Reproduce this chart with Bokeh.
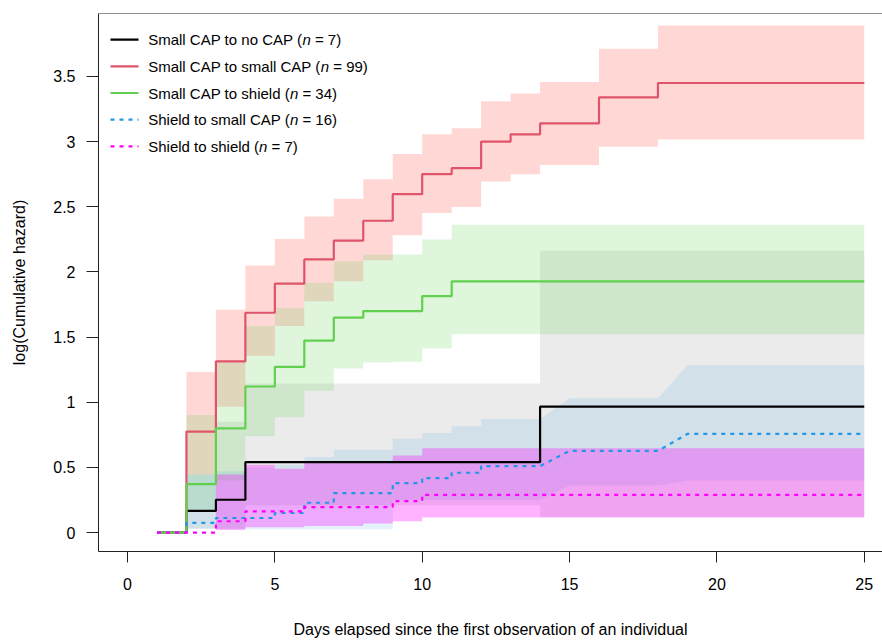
from bokeh.plotting import figure
from bokeh.models import Range1d, FixedTicker, Label, Span
from bokeh.embed import file_html
from bokeh.resources import INLINE

# ---------------- data ----------------
days = list(range(1, 26))          # day 1 .. 25
band_days = list(range(2, 26))     # bands start at the first event (day 2)
mag_band_days = list(range(3, 26))

black_y = [0, 0.166, 0.252] + [0.540] * 10 + [0.966] * 12
black_lo = [0.03, 0.03] + [0.21] * 10 + [0.12] * 12
black_hi = [0.446, 0.851] + [1.144] * 10 + [2.163] * 12

red_y = [0, 0.775, 1.313, 1.687, 1.910, 2.096, 2.241, 2.393, 2.597, 2.750,
         2.796, 3.000, 3.056, 3.140, 3.140, 3.339, 3.339] + [3.450] * 8
red_lo = [0.446, 0.966, 1.356, 1.585, 1.776, 1.929, 2.090, 2.281, 2.452, 2.498,
          2.694, 2.750, 2.821, 2.821, 2.961, 2.961] + [3.017] * 8
red_hi = [1.233, 1.710, 2.050, 2.253, 2.426, 2.561, 2.712, 2.905, 3.056, 3.102,
          3.310, 3.369, 3.458, 3.458, 3.713, 3.713] + [3.891] * 8

green_y = [0, 0.372, 0.800, 1.121, 1.272, 1.473, 1.649, 1.700, 1.700, 1.814] + [1.927] * 15
green_lo = [0.166, 0.40, 0.739, 0.884, 1.088, 1.259, 1.305, 1.310, 1.412] + [1.521] * 15
green_hi = [0.902, 1.305, 1.585, 1.725, 1.917, 2.082, 2.133, 2.133, 2.248] + [2.362] * 15

blue_y = [0, 0.074, 0.112, 0.112, 0.150, 0.229, 0.303, 0.303, 0.380, 0.418,
          0.459, 0.510, 0.510, 0.510, 0.627, 0.627, 0.627, 0.627] + [0.757] * 7
blue_lo = [0.031, 0.03, 0.025, 0.025, 0.025, 0.025, 0.025, 0.25, 0.25, 0.25,
           0.25, 0.25, 0.25, 0.362, 0.362, 0.362, 0.362] + [0.40] * 7
blue_hi = [0.446, 0.47, 0.50, 0.52, 0.58, 0.635, 0.635, 0.719, 0.765, 0.816,
           0.872, 0.872, 0.872, 1.03, 1.03, 1.03, 1.03] + [1.284] * 7
blue_sloped_days = [15, 19]

mag_y = [0, 0, 0.087, 0.163, 0.163, 0.196, 0.196, 0.196, 0.242] + [0.290] * 16
mag_lo = [0.02, 0.04, 0.04, 0.05, 0.05, 0.069, 0.087] + [0.115] * 16
mag_hi = [0.446, 0.52, 0.49, 0.54, 0.54, 0.54, 0.591] + [0.647] * 16

legend_names = ["Small CAP to no CAP", "Small CAP to small CAP", "Small CAP to shield",
                "Shield to small CAP", "Shield to shield"]
legend_n = [7, 99, 34, 16, 7]

x_ticks = [0, 5, 10, 15, 20, 25]
y_ticks = [0, 0.5, 1, 1.5, 2, 2.5, 3, 3.5]
y_tick_labels = ["0", "0.5", "1", "1.5", "2", "2.5", "3", "3.5"]

# ---------------- styling ----------------
FONT = "Liberation Sans"
line_cols = ["#000000", "#DF536B", "#61D04F", "#2297E6", "#FF00FF"]
band_cols = ["#000000", "#FF645A", "#61D04F", "#2297E6", "#FF00FF"]
band_alpha = [0.08, 0.25, 0.2, 0.12, 0.3]
dashes = ["solid", "solid", "solid", "4 5", "4 5"]
LW = 2.2

# pixel calibration of the reference
PX0, PPX = 127.0, 29.47     # x = 0 at px 127, px per day
PY0, PPY = 534.0, 130.8     # y = 0 at py 534, px per unit
W_FIG, H_FIG = 882, 640
FL, FR, FT, FB = 98, 882, 13, 553


def dx(px):
    return (px - PX0) / PPX


def dy(py):
    return (PY0 - py) / PPY


def step_xy(xs, ys, sloped=()):
    ox, oy = [xs[0]], [ys[0]]
    for i in range(1, len(xs)):
        if xs[i] not in sloped:
            ox.append(xs[i]); oy.append(ys[i - 1])
        ox.append(xs[i]); oy.append(ys[i])
    return ox, oy


p = figure(width=W_FIG, height=H_FIG, output_backend="svg", toolbar_location=None,
           x_range=Range1d(dx(FL), dx(FR)), y_range=Range1d(dy(FB), dy(FT)),
           min_border_left=FL, min_border_right=W_FIG - FR,
           min_border_top=FT, min_border_bottom=H_FIG - FB)
p.grid.visible = False
p.outline_line_color = None
p.background_fill_color = "white"
p.border_fill_color = "white"

# bands
bands = [(band_days, black_lo, black_hi, ()),
         (band_days, red_lo, red_hi, ()),
         (band_days, green_lo, green_hi, ()),
         (band_days, blue_lo, blue_hi, blue_sloped_days),
         (mag_band_days, mag_lo, mag_hi, ())]
for (bx, lo, hi, sl), c, a in zip(bands, band_cols, band_alpha):
    sx, slo = step_xy(bx, lo, sl)
    _, shi = step_xy(bx, hi, sl)
    p.varea(x=sx, y1=slo, y2=shi, fill_color=c, fill_alpha=a)

# lines
series = [(black_y, ()), (red_y, ()), (green_y, ()), (blue_y, blue_sloped_days), (mag_y, ())]
for (ys, sl), c, d in zip(series, line_cols, dashes):
    sx, sy = step_xy(days, ys, sl)
    p.line(sx, sy, line_color=c, line_width=LW, line_dash=d)

# axes (R style)
for ax in (p.xaxis[0], p.yaxis[0]):
    ax.major_tick_in = 0
    ax.minor_tick_line_color = None
    ax.axis_line_color = "#222222"
    ax.major_tick_line_color = "#222222"
    ax.major_label_text_font = FONT
    ax.major_label_text_font_size = "16px"
    ax.major_label_text_color = "black"
    ax.axis_label_text_font = FONT
    ax.axis_label_text_font_size = "16px"
    ax.axis_label_text_font_style = "normal"
    ax.axis_label_text_color = "black"

p.xaxis.ticker = FixedTicker(ticks=x_ticks)
p.xaxis.major_tick_out = 11
p.xaxis.major_label_standoff = 15
p.xaxis.axis_label = "Days elapsed since the first observation of an individual"
p.xaxis.axis_label_standoff = 28

p.yaxis.ticker = FixedTicker(ticks=y_ticks)
p.yaxis.major_label_overrides = {t: l for t, l in zip(y_ticks, y_tick_labels)}
p.yaxis.major_tick_out = 12
p.yaxis.major_label_standoff = 11
p.yaxis.axis_label = "log(Cumulative hazard)"
p.yaxis.axis_label_standoff = 22

p.add_layout(Span(location=dy(FT), dimension="width", line_color="#222222", line_width=1))

# legend (drawn by hand so that "n" can be italic)
W = {' ': 278, '(': 333, ')': 333, '=': 584, 'A': 667, 'C': 722, 'P': 667, 'S': 667,
     'a': 556, 'd': 556, 'e': 556, 'h': 556, 'i': 222, 'l': 222, 'm': 833, 'n': 556,
     'o': 556, 's': 500, 't': 278}
FS = 15


def text_w(s):
    return sum(W.get(ch, 556) for ch in s) * FS / 1000.0


LEG_Y0, LEG_DY = 39.3, 26.75
LEG_L0, LEG_L1, LEG_T = 110, 138, 147.7
for i, (name, n) in enumerate(zip(legend_names, legend_n)):
    py = LEG_Y0 + i * LEG_DY
    p.line([dx(LEG_L0), dx(LEG_L1)], [dy(py), dy(py)], line_color=line_cols[i],
           line_width=LW, line_dash=dashes[i])
    pre = name + " ("
    post = "= %d)" % n
    x1 = LEG_T + text_w(pre)
    x2 = x1 + 556 * FS / 1000.0 + text_w(" ")
    for txt, xx, style in ((pre, LEG_T, "normal"), ("n", x1, "italic"), (post, x2, "normal")):
        p.add_layout(Label(x=dx(xx), y=dy(py), text=txt, text_font=FONT,
                           text_font_size="%dpx" % FS, text_font_style=style,
                           text_baseline="middle", text_align="left", text_color="black"))

open("out.html", "w").write(file_html(p, INLINE))
